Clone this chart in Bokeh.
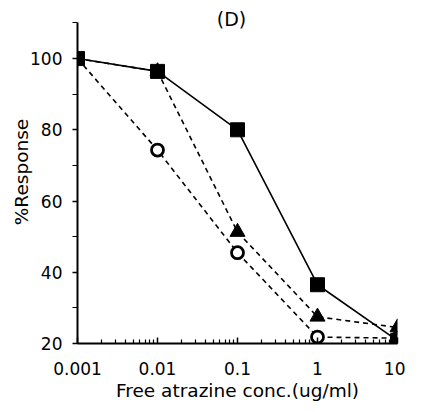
from bokeh.plotting import figure
from bokeh.models import FixedTicker, Range1d, Label
from bokeh.embed import file_html
from bokeh.resources import INLINE

conc = [0.001, 0.01, 0.1, 1, 10]
squares = [100, 96.4, 80, 36.5, 20.8]
triangles = [100, 96.4, 51.3, 27.5, 24.5]
circles = [100, 74.3, 45.5, 21.8, 21.5]

x_ticks = [0.001, 0.01, 0.1, 1, 10]
x_tick_labels = ["0.001", "0.01", "0.1", "1", "10"]
y_ticks = [20, 40, 60, 80, 100]
y_minor = [30, 50, 70, 90, 110]

FONT = "DejaVu Sans"

W, H = 405, 410
L, R, T = 77, 8, 0
FRAME_H = 343
B = H - T - FRAME_H

p = figure(width=W, height=H, x_axis_type="log", output_backend="svg",
           toolbar_location=None, x_range=Range1d(0.001, 10), y_range=Range1d(20, 116.3),
           min_border_left=L, min_border_right=R, min_border_top=T, min_border_bottom=B)
p.outline_line_color = None
p.grid.visible = False
p.background_fill_color = "white"

minor_x = [m * d for d in [0.001, 0.01, 0.1, 1] for m in range(2, 10)]
p.xaxis.ticker = FixedTicker(ticks=x_ticks, minor_ticks=minor_x)
p.xaxis.major_label_overrides = {t: l for t, l in zip(x_ticks, x_tick_labels)}
p.yaxis.ticker = FixedTicker(ticks=y_ticks, minor_ticks=y_minor)
p.yaxis.bounds = (20, 110)

for ax in [p.xaxis[0], p.yaxis[0]]:
    ax.axis_line_width = 2
    ax.axis_line_color = "black"
    ax.major_tick_line_color = "black"
    ax.minor_tick_line_color = "black"
    ax.major_tick_line_width = 1.5
    ax.minor_tick_line_width = 1.2
    ax.major_label_text_font = FONT
    ax.major_label_text_font_size = "17px"
    ax.major_label_text_color = "black"
    ax.axis_label_text_font = FONT
    ax.axis_label_text_font_size = "18.5px"
    ax.axis_label_text_font_style = "normal"
    ax.axis_label_text_color = "black"

p.xaxis.major_tick_in = 6
p.xaxis.major_tick_out = 0
p.xaxis.minor_tick_in = 4
p.xaxis.minor_tick_out = 0
p.xaxis.major_label_standoff = 18
p.xaxis.axis_label = "Free atrazine conc.(ug/ml)"
p.xaxis.axis_label_standoff = 2

p.yaxis.major_tick_in = 0
p.yaxis.major_tick_out = 5
p.yaxis.minor_tick_in = 0
p.yaxis.minor_tick_out = 5
p.yaxis.major_label_standoff = 10
p.yaxis.axis_label = "%Response"
p.yaxis.axis_label_standoff = -5

# lines
p.line(conc, circles, line_color="black", line_width=1.6, line_dash="5 4")
p.line(conc, triangles, line_color="black", line_width=1.6, line_dash="5 4")
p.line(conc, squares, line_color="black", line_width=1.6)

p.scatter(conc[1:], circles[1:], marker="circle", size=12, fill_color="white",
          line_color="black", line_width=2.8)
p.scatter(conc[1:], triangles[1:], marker="triangle", size=15, fill_color="black",
          line_color="black")
p.scatter(conc, squares, marker="square", size=14, fill_color="black", line_color="black")

p.add_layout(Label(x=154, y=FRAME_H - 18.5, x_units="screen", y_units="screen", text="(D)",
                   text_font=FONT, text_font_size="19px", text_color="black",
                   text_align="center", text_baseline="middle"))

open("out.html", "w").write(file_html(p, INLINE))
